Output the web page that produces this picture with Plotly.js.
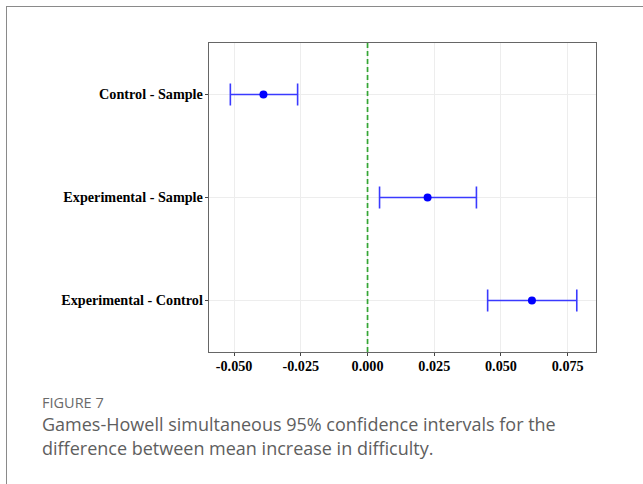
<!DOCTYPE html>
<html>
<head>
<meta charset="utf-8">
<script src="https://cdn.plot.ly/plotly-3.0.1.min.js"></script>
<style>
  html, body { margin: 0; padding: 0; background: #fff; }
  #wrap { position: relative; width: 643px; height: 484px; overflow: hidden; }
  #frame { position: absolute; left: 6px; top: 6px; width: 660px; height: 500px;
           border-top: 1.5px solid #8a8a8a; border-left: 1.5px solid #8a8a8a; }
  #chart { position: absolute; left: 0; top: 0; width: 643px; height: 484px; }
</style>
</head>
<body>
<div id="wrap">
  <div id="frame"></div>
  <div id="chart"></div>
</div>
<script>
// Comparisons (top to bottom)
const comparisons = ["Control - Sample", "Experimental - Sample", "Experimental - Control"];
// Estimated mean differences and 95% CI bounds
const diffMean  = [-0.0390, 0.0225, 0.0616];
const diffLower = [-0.0514, 0.0045, 0.0450];
const diffUpper = [-0.0262, 0.0408, 0.0784];
// Axis ticks
const xTickVals = [-0.050, -0.025, 0.000, 0.025, 0.050, 0.075];
const xTickText = ["-0.050", "-0.025", "0.000", "0.025", "0.050", "0.075"];
const refLine = 0;

const trace = {
  type: "scatter",
  mode: "markers",
  x: diffMean,
  y: comparisons,
  marker: { color: "#0000ff", size: 8 },
  error_x: {
    type: "data",
    symmetric: false,
    array: diffUpper.map((u, i) => u - diffMean[i]),
    arrayminus: diffMean.map((m, i) => m - diffLower[i]),
    color: "#3a3aff",
    thickness: 1.6,
    width: 11
  },
  hoverinfo: "none"
};

const L = 209, R = 596, T = 43, B = 352, W = 643, H = 484;
const ph = B - T;
function py(px) { return (B - px) / ph; }
const tickFont = { family: "Liberation Serif, Times New Roman, serif", size: 14.2, color: "#000", weight: "bold" };

const layout = {
  width: W, height: H,
  margin: { l: L, r: W - R, t: T, b: H - B, pad: 0 },
  paper_bgcolor: "rgba(0,0,0,0)",
  plot_bgcolor: "#ffffff",
  showlegend: false,
  xaxis: {
    range: [-0.0594, 0.0856],
    tickvals: xTickVals,
    ticktext: xTickText,
    showgrid: true, gridcolor: "#ededed", gridwidth: 1,
    zeroline: false,
    showline: true, mirror: true, linecolor: "#666666", linewidth: 1.3,
    ticks: "outside", ticklen: 3, tickcolor: "#444", tickwidth: 1,
    ticklabelstandoff: -2,
    tickfont: tickFont
  },
  yaxis: {
    type: "category",
    categoryorder: "array",
    categoryarray: comparisons,
    range: [2.5, -0.5],
    showgrid: true, gridcolor: "#ededed", gridwidth: 1,
    zeroline: false,
    showline: true, mirror: true, linecolor: "#666666", linewidth: 1.3,
    ticks: "outside", ticklen: 3, tickcolor: "#444", tickwidth: 1,
    ticklabelstandoff: -1,
    tickfont: tickFont
  },
  shapes: [{
    type: "line", xref: "x", yref: "paper",
    x0: refLine, x1: refLine, y0: 0, y1: 1,
    line: { color: "#34a634", width: 1.7, dash: "5px,3px" },
    layer: "above"
  }],
  annotations: [
    { text: "FIGURE 7", xref: "paper", yref: "paper", x: (40 - L) / (R - L), y: py(402),
      xanchor: "left", yanchor: "middle", showarrow: false,
      font: { family: "Open Sans, Noto Sans, sans-serif", size: 14.5, color: "#6a6a6a" } },
    { text: "Games-Howell simultaneous 95% confidence intervals for the", xref: "paper", yref: "paper",
      x: (40 - L) / (R - L), y: py(424), xanchor: "left", yanchor: "middle", showarrow: false,
      font: { family: "Open Sans, Noto Sans, sans-serif", size: 18, color: "#5e5e5e" } },
    { text: "difference between mean increase in difficulty.", xref: "paper", yref: "paper",
      x: (40 - L) / (R - L), y: py(448), xanchor: "left", yanchor: "middle", showarrow: false,
      font: { family: "Open Sans, Noto Sans, sans-serif", size: 18, color: "#5e5e5e" } }
  ]
};

Plotly.newPlot("chart", [trace], layout, { displayModeBar: false, staticPlot: true });
</script>
</body>
</html>
